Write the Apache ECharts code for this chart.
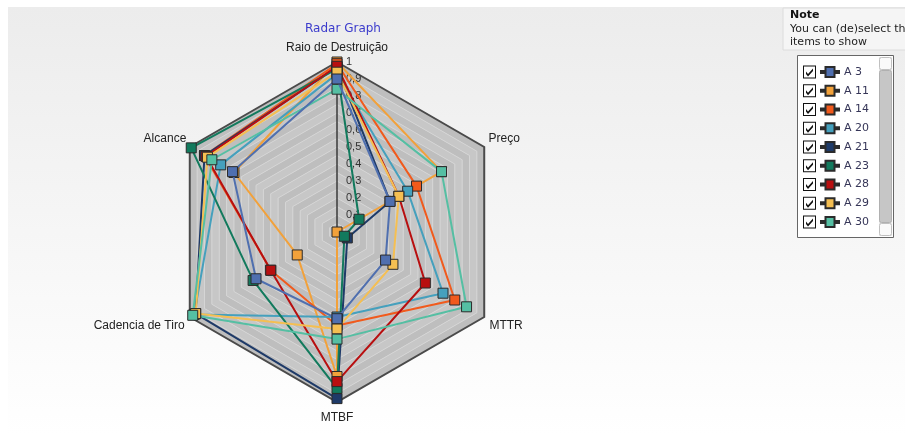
<!DOCTYPE html>
<html>
<head>
<meta charset="utf-8">
<script src="https://cdn.jsdelivr.net/npm/echarts@6/dist/echarts.min.js"></script>
<style>
  html, body { margin: 0; padding: 0; background: #fff; }
  #chart { width: 905px; height: 435px; }
</style>
</head>
<body>
<div id="chart"></div>
<script>
// axes, counter-clockwise from the top
const indicatorNames = ['Raio de Destruição', 'Alcance', 'Cadencia de Tiro', 'MTBF', 'MTTR', 'Preço'];

const seriesNames = ['A 3', 'A 11', 'A 14', 'A 20', 'A 21', 'A 23', 'A 28', 'A 29', 'A 30'];
const seriesColors = ['#4f6faf', '#f2a13a', '#f15a1c', '#45a0bd', '#1e3a68', '#127a5d', '#b80f10', '#f5bf52', '#55bfa3'];

// values (same order as indicatorNames)
const valuesA3  = [0.90, 0.71, 0.55, 0.51, 0.33, 0.36];
const valuesA11 = [1.00, 0.70, 0.27, 0.85, 0.00, 0.71];
const valuesA14 = [0.99, 0.90, 0.45, 0.55, 0.80, 0.54];
const valuesA20 = [0.93, 0.79, 0.97, 0.50, 0.72, 0.48];
const valuesA21 = [0.97, 0.90, 0.96, 0.98, 0.07, 0.36];
const valuesA23 = [0.96, 0.99, 0.57, 0.92, 0.05, 0.15];
const valuesA28 = [0.975, 0.89, 0.45, 0.88, 0.60, 0.42];
const valuesA29 = [0.94, 0.88, 0.96, 0.57, 0.38, 0.42];
const valuesA30 = [0.84, 0.85, 0.98, 0.63, 0.88, 0.71];

const allValues = [valuesA3, valuesA11, valuesA14, valuesA20, valuesA21, valuesA23, valuesA28, valuesA29, valuesA30];
// A 3 sits on top of A 11 where they meet
const seriesZ = [3, 2, 2, 2, 2, 2, 2, 2, 2];

const chart = echarts.init(document.getElementById('chart'));

function tickText(v) {
  const k = Math.round(v * 100);
  if (k === 0 || k % 10 !== 0) return '';
  return k === 100 ? '1' : (k / 100).toFixed(1).replace('.', ',');
}

// where each axis name sits around its corner
const nameLayout = [
  { nameGap: 8, nameTextStyle: { align: 'center', verticalAlign: 'bottom' } },
  { nameGap: 4, nameTextStyle: { align: 'right', verticalAlign: 'bottom' } },
  { nameGap: 6, nameTextStyle: { align: 'right', verticalAlign: 'top' } },
  { nameGap: 10, nameTextStyle: { align: 'center', verticalAlign: 'top' } },
  { nameGap: 6, nameTextStyle: { align: 'left', verticalAlign: 'top' } },
  { nameGap: 5, nameTextStyle: { align: 'left', verticalAlign: 'bottom' } }
];

const indicators = indicatorNames.map(function (name, i) {
  const ind = Object.assign({ name: name, min: 0, max: 1 }, nameLayout[i]);
  if (i === 0) {
    ind.axisLine = { show: true, lineStyle: { color: '#3a3a3a', width: 1.5 } };
    ind.axisLabel = {
      show: true, margin: -9, align: 'left', color: '#333',
      fontSize: 11, fontFamily: 'Liberation Sans', formatter: tickText
    };
  }
  return ind;
});

const checkIcon = 'path://M0,0H13V13H0Z M1,1V12H12V1Z M3,6L5,8.5L10,3L10,5.5L5,11L3,8.5Z';
const lineIcon = 'path://M0,4H4.5V0H13.5V4H18V6H13.5V10H4.5V6H0Z';

const option = {
  animation: false,
  backgroundColor: '#ffffff',
  title: {
    text: 'Radar Graph',
    left: 338,
    top: 18,
    textAlign: 'center',
    textStyle: { color: '#3b3bcc', fontSize: 12, fontWeight: 'normal', fontFamily: 'DejaVu Sans' }
  },
  graphic: [
    {
      type: 'rect', z: -100, silent: true,
      shape: { x: 8, y: 7, width: 897, height: 428 },
      style: {
        fill: new echarts.graphic.LinearGradient(0, 0, 0, 1, [
          { offset: 0, color: '#ececec' },
          { offset: 1, color: '#ffffff' }
        ])
      }
    },
    {
      type: 'rect', z: -50, silent: true,
      shape: { x: 783, y: 8, width: 130, height: 42 },
      style: { fill: '#f5f5f5', stroke: '#dcdcdc', lineWidth: 1 }
    },
    {
      type: 'text', left: 790, top: 10, silent: true,
      style: { text: 'Note', fill: '#111', font: 'bold 11px "DejaVu Sans"' }
    },
    {
      type: 'text', left: 790, top: 23, silent: true,
      style: { text: 'You can (de)select the\nitems to show', fill: '#222', font: '11px "DejaVu Sans"', lineHeight: 13 }
    },
    {
      type: 'rect', z: 1, silent: true,
      shape: { x: 797.5, y: 55.5, width: 96, height: 182 },
      style: { fill: '#ffffff', stroke: '#666', lineWidth: 1 }
    },
    {
      type: 'rect', z: 2, silent: true,
      shape: { x: 879, y: 57, width: 13, height: 179 },
      style: { fill: '#e6e6e6' }
    },
    {
      type: 'rect', z: 3, silent: true,
      shape: { x: 879.5, y: 70.5, width: 12, height: 152, r: 2 },
      style: { fill: '#c6c6c6', stroke: '#b0b0b0', lineWidth: 1 }
    },
    {
      type: 'rect', z: 3, silent: true,
      shape: { x: 879.5, y: 57.5, width: 12, height: 12, r: 2 },
      style: { fill: '#fafafa', stroke: '#c0c0c0', lineWidth: 1 }
    },
    {
      type: 'rect', z: 3, silent: true,
      shape: { x: 879.5, y: 223.5, width: 12, height: 12, r: 2 },
      style: { fill: '#fafafa', stroke: '#c0c0c0', lineWidth: 1 }
    }
  ],
  legend: [
    {
      orient: 'vertical',
      left: 815,
      top: 60,
      itemWidth: 18,
      itemHeight: 10,
      itemGap: 4.75,
      icon: lineIcon,
      data: seriesNames,
      textStyle: { color: '#363658', fontSize: 11, lineHeight: 14, fontFamily: 'DejaVu Sans' }
    },
    {
      orient: 'vertical',
      left: 798,
      top: 60,
      itemWidth: 13,
      itemHeight: 13,
      itemGap: 4.75,
      icon: checkIcon,
      data: seriesNames,
      formatter: function () { return ' '; },
      itemStyle: { color: '#111', borderWidth: 0 },
      textStyle: { fontSize: 11, lineHeight: 14 }
    }
  ],
  radar: [
    {
      center: [337, 232],
      radius: 170,
      startAngle: 90,
      shape: 'polygon',
      splitNumber: 20,
      indicator: indicators,
      axisName: { color: '#222', fontSize: 12, fontFamily: 'Liberation Sans' },
      axisLine: { show: false },
      axisTick: { show: false },
      axisLabel: { show: false },
      splitArea: { show: true, areaStyle: { color: ['#c7c7c7', '#bebebe'] } },
      splitLine: { show: true, lineStyle: { color: '#d5d5d5', width: 1 } }
    },
    {
      center: [337, 232],
      radius: 170,
      startAngle: 90,
      shape: 'polygon',
      splitNumber: 1,
      indicator: indicatorNames.map(function () { return { name: '', min: 0, max: 1 }; }),
      axisName: { show: false },
      axisLine: { show: false },
      axisTick: { show: false },
      axisLabel: { show: false },
      splitArea: { show: false },
      splitLine: { show: true, lineStyle: { color: '#4a4a4a', width: 2 } }
    }
  ],
  series: seriesNames.map(function (name, i) {
    return {
      name: name,
      type: 'radar',
      radarIndex: 0,
      z: seriesZ[i],
      symbol: 'rect',
      symbolSize: 10,
      itemStyle: { color: seriesColors[i], borderColor: '#2b2b2b', borderWidth: 1 },
      lineStyle: { color: seriesColors[i], width: 2 },
      data: [{ name: name, value: allValues[i] }]
    };
  })
};

chart.setOption(option);
</script>
</body>
</html>
